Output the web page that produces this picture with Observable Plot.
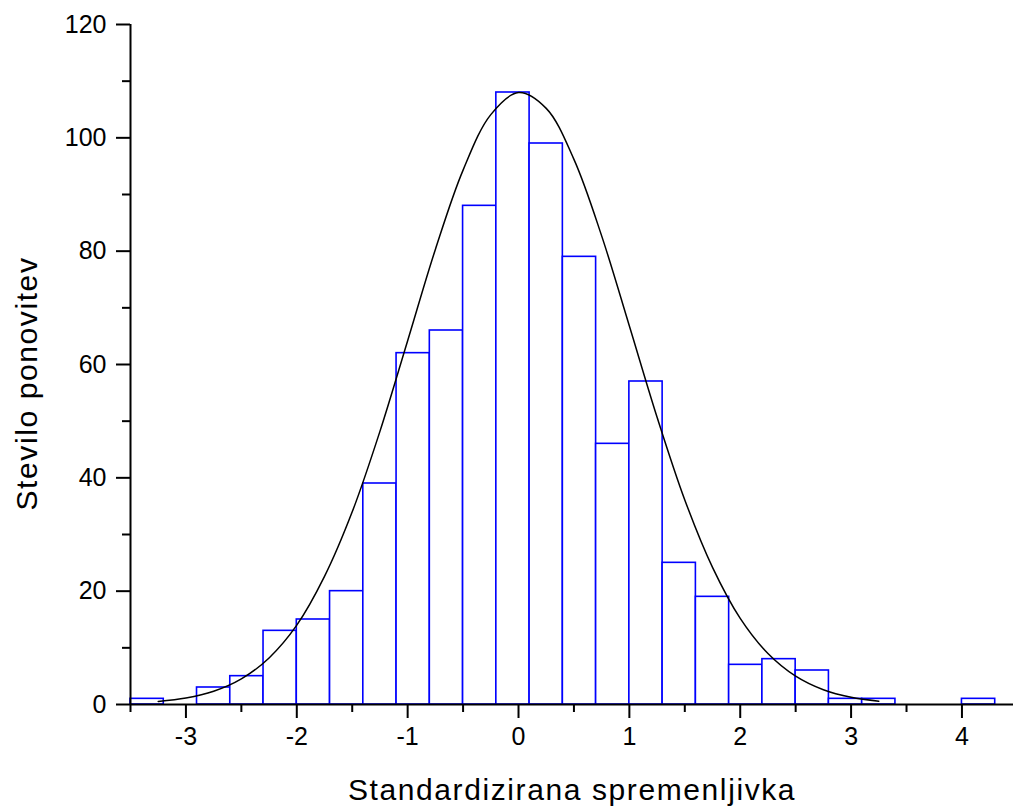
<!DOCTYPE html>
<html>
<head>
<meta charset="utf-8">
<script src="https://cdn.jsdelivr.net/npm/d3@7"></script>
<script src="https://cdn.jsdelivr.net/npm/@observablehq/plot@0.6"></script>
<style>
  html, body { margin: 0; padding: 0; background: white; }
  #chart { width: 1013px; height: 808px; }
</style>
</head>
<body>
<div id="chart"></div>
<script>
// Histogram bin edges (width 0.3) and counts
const binEdges = [-3.5, -3.2, -2.9, -2.6, -2.3, -2.0, -1.7, -1.4, -1.1, -0.8, -0.5, -0.2, 0.1, 0.4, 0.7, 1.0, 1.3, 1.6, 1.9, 2.2, 2.5, 2.8, 3.1, 3.4, 3.7, 4.0, 4.3];
const counts   = [1, 0, 3, 5, 13, 15, 20, 39, 62, 66, 88, 108, 99, 79, 46, 57, 25, 19, 7, 8, 6, 1, 1, 0, 0, 1];

// Fitted normal curve
const curveX = [-3.25, -3.0, -2.75, -2.5, -2.25, -2.0, -1.75, -1.5, -1.25, -1.0, -0.75, -0.5, -0.25, 0.0, 0.25, 0.5, 0.75, 1.0, 1.25, 1.5, 1.75, 2.0, 2.25, 2.5, 2.75, 3.0, 3.25];
const curveY = [0.52, 1.13, 2.33, 4.51, 8.22, 14.0, 22.6, 34.0, 48.2, 64.2, 80.3, 94.3, 104.1, 108.0, 105.2, 96.2, 82.7, 66.8, 50.7, 36.1, 24.2, 15.2, 9.0, 5.0, 2.6, 1.27, 0.59];

// Axis ticks
const xMajor = [-3, -2, -1, 0, 1, 2, 3, 4];
const xMinor = [-3.5, -2.5, -1.5, -0.5, 0.5, 1.5, 2.5, 3.5];
const yMajor = [0, 20, 40, 60, 80, 100, 120];
const yMinor = [10, 30, 50, 70, 90, 110];

const xLabel = "Standardizirana spremenljivka";
const yLabel = "Stevilo ponovitev";

const bins = counts.map((c, i) => ({x1: binEdges[i], x2: binEdges[i + 1], y: c})).filter(d => d.y > 0);
const curve = curveX.map((x, i) => ({x, y: curveY[i]}));

const chart = Plot.plot({
  width: 1013,
  height: 808,
  marginLeft: 130,
  marginRight: 0,
  marginTop: 24,
  marginBottom: 104,
  style: {fontFamily: "'Liberation Sans', Arial, sans-serif", fontSize: "25px", background: "white", color: "black"},
  x: {domain: [-3.5, 4.465]},
  y: {domain: [0, 120]},
  marks: [
    Plot.rectY(bins, {x1: "x1", x2: "x2", y: "y", fill: "white", stroke: "#0000ff", strokeWidth: 1.6}),
    Plot.line(curve, {x: "x", y: "y", curve: "catmull-rom", stroke: "black", strokeWidth: 1.5}),
    Plot.axisY(yMajor, {tickSize: 14, tickPadding: 10, strokeWidth: 2, label: null, fill: "black"}),
    Plot.axisY(yMinor, {tickSize: 8, tickFormat: () => "", strokeWidth: 2, label: null}),
    Plot.axisX(xMajor, {tickSize: 14, tickPadding: 9, strokeWidth: 2, label: null, fill: "black", tickFormat: d => d < 0 ? "-" + Math.abs(d) : String(d)}),
    Plot.axisX(xMinor, {tickSize: 8, tickFormat: () => "", strokeWidth: 2, label: null}),
    Plot.ruleX([-3.5], {stroke: "black", strokeWidth: 2}),
    Plot.ruleY([0], {stroke: "black", strokeWidth: 2}),
    Plot.text([xLabel], {text: d => d, frameAnchor: "bottom", dy: 86, fontSize: 30, fill: "black", lineAnchor: "middle", textAnchor: "middle"}),
    Plot.text([yLabel], {text: d => d, frameAnchor: "left", dx: -103, dy: 19, rotate: -90, fontSize: 30, fill: "black", lineAnchor: "middle", textAnchor: "middle"})
  ]
});

d3.select(chart).selectAll('g[aria-label="text"] text').style("letter-spacing", "1.6px");
document.getElementById("chart").appendChild(chart);
</script>
</body>
</html>
